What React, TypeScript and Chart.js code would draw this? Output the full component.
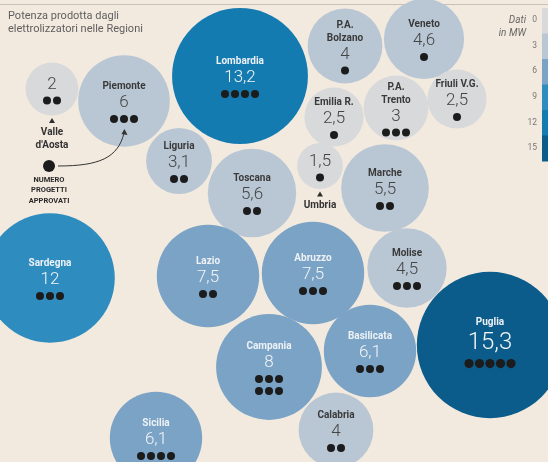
import React, { useEffect, useRef } from "react";
import { Chart, registerables, BubbleController } from "chart.js";

Chart.register(...registerables);
// bubble positions are layout coordinates; do not shrink the chart area for bubble radii
(BubbleController.prototype as any).getMaxOverflow = () => false;

// ---- data ----
const regions = ["Valle d'Aosta", "Piemonte", "Lombardia", "P.A. Bolzano", "Veneto", "Emilia R.", "P.A. Trento", "Friuli V.G.", "Liguria", "Toscana", "Umbria", "Marche", "Sardegna", "Lazio", "Abruzzo", "Molise", "Puglia", "Campania", "Basilicata", "Calabria", "Sicilia"];
const labelLines = ["Valle\nd'Aosta", "Piemonte", "Lombardia", "P.A.\nBolzano", "Veneto", "Emilia R.", "P.A.\nTrento", "Friuli V.G.", "Liguria", "Toscana", "Umbria", "Marche", "Sardegna", "Lazio", "Abruzzo", "Molise", "Puglia", "Campania", "Basilicata", "Calabria", "Sicilia"];
const powerMW = [2, 6, 13.2, 4, 4.6, 2.5, 3, 2.5, 3.1, 5.6, 1.5, 5.5, 12, 7.5, 7.5, 4.5, 15.3, 8, 6.1, 4, 6.1];
const projects = [2, 3, 4, 1, 1, 1, 3, 1, 2, 2, 1, 2, 3, 2, 3, 3, 5, 6, 3, 2, 4];
// packed-bubble layout (chart units)
const layoutX = [52, 124, 240, 345, 424, 334, 396, 457, 179, 252, 320, 385, 50, 208, 313, 407, 490, 269, 370, 336, 156];
const layoutY = [89, 101, 76, 46, 39, 117, 108, 99, 161, 193, 166, 188, 278, 276, 273, 268, 345, 367, 351, 430, 438];
const labelsBelow = ["Valle d'Aosta", "Umbria"];
const legendTicks = [0, 3, 6, 9, 12, 15];
const titleLines = ["Potenza prodotta dagli", "elettrolizzatori nelle Regioni"];
const legendTitle = ["Dati", "in MW"];
const noteLines = ["NUMERO", "PROGETTI", "APPROVATI"];

// ---- styles ----
const W = 548;
const H = 462;
const BG = "#f3eadf";
const BUBBLE_K = 18.7;
const binColors = ["#d8d9db", "#b9c7d4", "#7aa3c6", "#2e8cbe", "#147bb0", "#0b5c8b"];
const FONT = "Roboto, 'Open Sans', sans-serif";

function binIndex(v: number) {
  if (v >= 15) return 5;
  for (let i = 0; i < 4; i++) if (v <= legendTicks[i + 1]) return i;
  return 4;
}
const fmt = (v: number) => String(v).replace(".", ",");

const overlayPlugin = {
  id: "overlay",
  beforeDraw(chart: any) {
    const ctx = chart.ctx;
    ctx.save();
    ctx.fillStyle = BG;
    ctx.fillRect(0, 0, W, H);
    ctx.strokeStyle = "#c9c1b8";
    ctx.lineWidth = 1;
    ctx.beginPath();
    ctx.moveTo(0, 4.5);
    ctx.lineTo(W, 4.5);
    ctx.stroke();
    ctx.fillStyle = "#5e5e5e";
    ctx.font = `11px ${FONT}`;
    ctx.textAlign = "left";
    ctx.textBaseline = "middle";
    titleLines.forEach((t, i) => ctx.fillText(t, 8, 16 + i * 13));
    ctx.font = `italic 10px ${FONT}`;
    ctx.fillStyle = "#666";
    ctx.textAlign = "right";
    legendTitle.forEach((t, i) => ctx.fillText(t, 526, 20 + i * 13));
    const bandH = 25.5;
    const top = 8;
    binColors.forEach((c, i) => {
      ctx.fillStyle = c;
      ctx.fillRect(542, top + i * bandH, 6, bandH + 0.5);
    });
    ctx.font = `8.5px ${FONT}`;
    ctx.fillStyle = "#777";
    legendTicks.forEach((t, i) => ctx.fillText(String(t), 537, 20 + i * 25.6));
    ctx.restore();
  },
  afterDatasetsDraw(chart: any) {
    const ctx = chart.ctx;
    const meta = chart.getDatasetMeta(0);
    ctx.save();
    ctx.textAlign = "center";
    ctx.textBaseline = "middle";
    const els = meta.data;
    els.forEach((el: any, i: number) => {
      const v = powerMW[i];
      const cx = el.x;
      const cy = el.y;
      const r = BUBBLE_K * Math.sqrt(v);
      const bin = binIndex(v);
      const light = bin >= 2;
      const below = labelsBelow.includes(regions[i]);
      const nameL = below ? [] : labelLines[i].split("\n");
      const n = projects[i];
      const rows = n > 5 ? 2 : 1;
      const perRow = Math.ceil(n / rows);
      const vf = v >= 15 ? 24 : 17;
      let valY = cy + 2 + 6.5 * (nameL.length - 1) - 6 * (rows - 1);
      if (v >= 15) valY = cy - 2;
      const nameGap = vf * 0.6 + 6;
      const dotGap = vf * 0.65 + 5;
      ctx.font = `bold 10px ${FONT}`;
      ctx.fillStyle = light ? "#eef2f6" : "#3a3a3a";
      nameL.forEach((t, k) => {
        ctx.fillText(t, cx, valY - nameGap - (nameL.length - 1 - k) * 13);
      });
      ctx.font = `300 ${vf}px ${FONT}`;
      ctx.fillStyle = light ? "#f2f5f8" : "#444";
      ctx.fillText(fmt(v), cx, valY);
      const dr = v >= 15 ? 4.6 : 4;
      const sp = v >= 15 ? 10.5 : 10;
      ctx.fillStyle = "#1c1c1c";
      let left = n;
      for (let rw = 0; rw < rows; rw++) {
        const cnt = Math.min(perRow, left);
        left -= cnt;
        const y = valY + dotGap + rw * 12;
        for (let d = 0; d < cnt; d++) {
          const x = cx + (d - (cnt - 1) / 2) * sp;
          ctx.beginPath();
          ctx.arc(x, y, dr, 0, Math.PI * 2);
          ctx.fill();
        }
      }
      if (below) {
        const b = cy + r;
        ctx.fillStyle = "#2f2f2f";
        ctx.beginPath();
        ctx.moveTo(cx, b + 2.5);
        ctx.lineTo(cx + 3, b + 7.5);
        ctx.lineTo(cx - 3, b + 7.5);
        ctx.closePath();
        ctx.fill();
        ctx.font = `bold 10px ${FONT}`;
        ctx.fillStyle = "#333";
        labelLines[i].split("\n").forEach((t, k) => ctx.fillText(t, cx, b + 17 + k * 13));
      }
    });

    const pi = regions.indexOf("Piemonte");
    const pe = els[pi];
    const endX = pe.x;
    const endY = pe.y + 2 + 16 + 5 + 7;
    const sx = 49;
    const sy = 166;
    ctx.fillStyle = "#1c1c1c";
    ctx.beginPath();
    ctx.arc(sx, sy, 6, 0, Math.PI * 2);
    ctx.fill();
    ctx.strokeStyle = "#333";
    ctx.lineWidth = 1;
    ctx.beginPath();
    ctx.moveTo(sx + 9, sy);
    ctx.bezierCurveTo(sx + 50, sy, endX - 6, sy - 8, endX, endY + 2);
    ctx.stroke();
    ctx.fillStyle = "#333";
    ctx.beginPath();
    ctx.moveTo(endX + 0.5, endY - 2);
    ctx.lineTo(endX + 3.5, endY + 4);
    ctx.lineTo(endX - 2.5, endY + 3);
    ctx.closePath();
    ctx.fill();
    ctx.font = `bold 7.5px ${FONT}`;
    ctx.fillStyle = "#2a2a2a";
    noteLines.forEach((t, k) => ctx.fillText(t, sx, 180 + k * 10.5));
    ctx.restore();
  },
};

export default function App() {
  const ref = useRef<HTMLCanvasElement | null>(null);
  useEffect(() => {
    document.body.style.margin = "0";
    const c = ref.current;
    if (!c) return;
    const chart = new Chart(c, {
      type: "bubble",
      data: {
        datasets: [
          {
            label: "MW",
            data: powerMW.map((v, i) => ({ x: layoutX[i], y: layoutY[i], r: BUBBLE_K * Math.sqrt(v) })),
            backgroundColor: powerMW.map((v) => binColors[binIndex(v)]),
            borderWidth: 0,
            hoverRadius: 0,
          } as any,
        ],
      },
      options: {
        animation: false,
        responsive: false,
        devicePixelRatio: 1,
        events: [],
        layout: { padding: 0 },
        plugins: { legend: { display: false }, tooltip: { enabled: false } },
        scales: {
          x: { type: "linear", min: 0, max: W, display: false },
          y: { type: "linear", min: 0, max: H, reverse: true, display: false },
        },
      },
      plugins: [overlayPlugin],
    });
    return () => chart.destroy();
  }, []);
  return (
    <div style={{ position: "fixed", left: 0, top: 0, width: W, height: H, background: BG }}>
      <canvas ref={ref} width={W} height={H} style={{ display: "block", width: W, height: H }} />
    </div>
  );
}
